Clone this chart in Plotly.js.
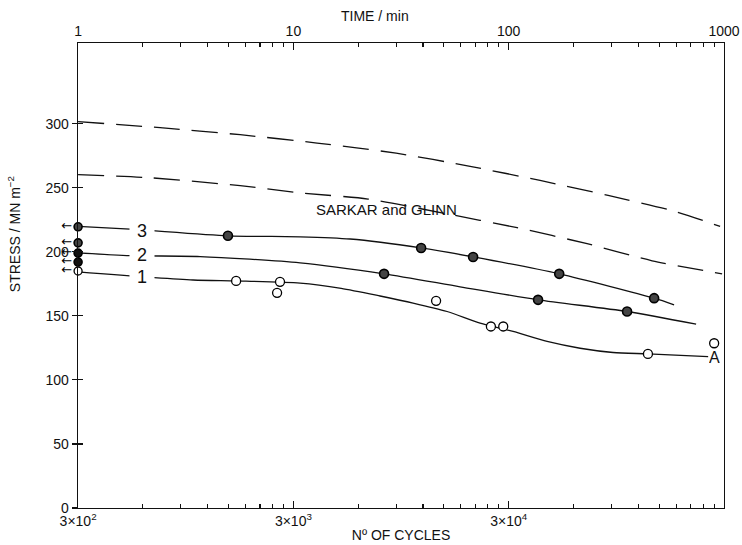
<!DOCTYPE html>
<html>
<head>
<meta charset="utf-8">
<script src="https://cdn.plot.ly/plotly-3.0.1.min.js"></script>
<style>html,body{margin:0;padding:0;background:#fff;}#chart{width:742px;height:545px;}</style>
</head>
<body>
<div id="chart"></div>
<script>
// ---- data (x in number of cycles, y in stress / MN m^-2) ----
const sarkarUpperX = [300, 721, 1697, 3865, 9000, 19860, 41960, 86860, 177800, 287800];
const sarkarUpperY = [301.6, 296.9, 291.4, 284.9, 277, 266.7, 255.7, 244, 231.5, 219.8];
const sarkarLowerX = [300, 648, 1697, 3222, 6670, 14870, 32820, 69400, 139100, 294000];
const sarkarLowerY = [260.2, 257.8, 251.6, 246, 241.2, 230.2, 218.8, 206.3, 193, 182.8];

const curve3X = [300, 523, 1490, 3222, 5502, 11760, 20500, 51500, 142100, 175900];
const curve3Y = [219.8, 217.7, 212.5, 211.7, 210, 203, 196, 182.8, 163.8, 158.6];
const curve2X = [300, 523, 1106, 3222, 7910, 17830, 41070, 106400, 222600];
const curve2Y = [199.2, 197, 196.3, 191.4, 182.8, 172.7, 162.5, 153.4, 143.5];
const curve1X = [300, 1026, 1626, 3222, 5000, 7582, 10790, 15520, 22100, 31440, 45240, 64380, 91620, 133000, 253200];
const curve1Y = [184.4, 178, 177.3, 175.6, 171.5, 165.5, 160, 153.4, 144.3, 137.8, 130, 124.7, 121.4, 120.3, 118.2];

const pts3X = [1490, 11760, 20500, 51500, 142100];
const pts3Y = [212.5, 203, 196, 182.8, 163.8];
const pts2X = [7910, 41070, 106400];
const pts2Y = [182.8, 162.5, 153.4];
const pts1X = [1626, 2600, 2520, 13800, 24800, 28300, 133000, 270000];
const pts1Y = [177.3, 176.6, 168, 161.7, 141.7, 141.7, 120.3, 128.6];

// run-out points on the 3x10^2 axis (arrows pointing left)
const axisShadedY = [219.5, 207];
const axisDarkY = [199, 192];
const axisOpenY = [185];
const axisX = 300;

const curveLabels = ['1', '2', '3', 'A'];
const curveLabelX = [595, 595, 595, 272000];
const curveLabelY = [180.5, 197.7, 216.4, 117.5];

const bottomTickVals = [300, 3000, 30000, 300000];
const bottomTickText = ['3×10<sup>2</sup>', '3×10<sup>3</sup>', '3×10<sup>4</sup>', '3×10<sup>5</sup>'];
const topTickVals = [1, 10, 100, 1000];
const topTickText = ['1', '10', '100', '1000'];
const yTickVals = [0, 50, 100, 150, 200, 250, 300];

// ---- minor tick positions ----
const bottomMinor = [];
const topMinor = [];
for (let d = 0; d < 3; d++) {
  for (let k = 2; k <= 9; k++) {
    bottomMinor.push(300 * k * Math.pow(10, d));
    topMinor.push(k * Math.pow(10, d));
  }
}

const FONT = 'Liberation Sans, Arial, sans-serif';
const lineStyle = {color: '#111', width: 1.3, shape: 'spline', smoothing: 0.7};
const dashStyle = {color: '#111', width: 1.3, shape: 'spline', smoothing: 0.7, dash: '26px,12px'};
const EPS = 0.0004; // tiny range padding so edge points are not hidden

function atAxis(arr) { return arr.map(() => axisX); }
const arrowFont = {size: 13, color: '#000', family: 'DejaVu Sans'};

const traces = [
  {x: sarkarUpperX, y: sarkarUpperY, mode: 'lines', line: dashStyle, name: 'Sarkar and Glinn (upper)'},
  {x: sarkarLowerX, y: sarkarLowerY, mode: 'lines', line: dashStyle, name: 'Sarkar and Glinn (lower)'},
  {x: curve3X, y: curve3Y, mode: 'lines', line: lineStyle, name: 'curve 3'},
  {x: curve2X, y: curve2Y, mode: 'lines', line: lineStyle, name: 'curve 2'},
  {x: curve1X, y: curve1Y, mode: 'lines', line: lineStyle, name: 'curve 1'},
  {x: pts3X, y: pts3Y, mode: 'markers', name: 'data 3',
   marker: {symbol: 'circle', size: 9, color: '#444', line: {color: '#000', width: 1.6}}},
  {x: pts2X, y: pts2Y, mode: 'markers', name: 'data 2',
   marker: {symbol: 'circle', size: 9, color: '#444', line: {color: '#000', width: 1.6}}},
  {x: pts1X, y: pts1Y, mode: 'markers', name: 'data 1',
   marker: {symbol: 'circle', size: 9, color: '#fff', line: {color: '#000', width: 1.3}}},
  {x: atAxis(axisShadedY), y: axisShadedY, mode: 'markers+text', text: axisShadedY.map(() => '←'),
   textposition: 'middle left', textfont: arrowFont, cliponaxis: false, name: 'run-out shaded',
   marker: {symbol: 'circle', size: 8, color: '#444', line: {color: '#000', width: 1.6}}},
  {x: atAxis(axisDarkY), y: axisDarkY, mode: 'markers+text', text: axisDarkY.map(() => '←'),
   textposition: 'middle left', textfont: arrowFont, cliponaxis: false, name: 'run-out dark',
   marker: {symbol: 'circle', size: 8, color: '#111', line: {color: '#000', width: 1.6}}},
  {x: atAxis(axisOpenY), y: axisOpenY, mode: 'markers+text', text: axisOpenY.map(() => '←'),
   textposition: 'middle left', textfont: arrowFont, cliponaxis: false, name: 'run-out open',
   marker: {symbol: 'circle', size: 8, color: '#fff', line: {color: '#000', width: 1.3}}},
  {x: [1], y: [0], xaxis: 'x2', mode: 'markers', marker: {size: 1, opacity: 0}, hoverinfo: 'skip', name: 'time axis'},
  {x: [300], y: [0], yaxis: 'y2', mode: 'markers', marker: {size: 1, opacity: 0}, hoverinfo: 'skip', name: 'tick helper'}
];

const annotations = curveLabels.map((t, i) => ({
  x: Math.log10(curveLabelX[i]), y: curveLabelY[i], xref: 'x', yref: 'y',
  text: t, showarrow: false, bgcolor: t === 'A' ? 'rgba(0,0,0,0)' : '#fff',
  width: t === 'A' ? undefined : 24, height: 15, borderpad: 0,
  font: {family: FONT, size: t === 'A' ? 16 : 18, color: '#111'}
}));
annotations.push({
  x: Math.log10(8085), y: 233, xref: 'x', yref: 'y', text: 'SARKAR and GLINN',
  showarrow: false, font: {family: FONT, size: 15, color: '#111'}
});
annotations.push({
  x: 0.46, y: 1.057, xref: 'paper', yref: 'paper', xanchor: 'center', yanchor: 'middle',
  text: 'TIME / min', showarrow: false, font: {family: FONT, size: 14, color: '#111'}
});
annotations.push({
  x: -0.099, y: 0.589, xref: 'paper', yref: 'paper', xanchor: 'center', yanchor: 'middle',
  text: 'STRESS / MN m<sup>−2</sup>', textangle: -90, showarrow: false,
  font: {family: FONT, size: 14, color: '#111'}
});

const layout = {
  width: 742, height: 545,
  margin: {l: 78, r: 18, t: 43, b: 37},
  paper_bgcolor: '#fff', plot_bgcolor: '#fff',
  showlegend: false,
  font: {family: FONT, size: 14, color: '#111'},
  xaxis: {
    type: 'log', range: [Math.log10(300) - EPS, Math.log10(300000)],
    tickmode: 'array', tickvals: bottomTickVals, ticktext: bottomTickText,
    ticks: 'inside', ticklen: 7, tickwidth: 1.2, tickcolor: '#111',
    minor: {tickmode: 'array', tickvals: bottomMinor, ticks: 'inside', ticklen: 4, tickwidth: 1.1, tickcolor: '#111', showgrid: false},
    showline: true, linecolor: '#111', linewidth: 1.3,
    showgrid: false, zeroline: false,
    tickfont: {family: FONT, size: 14, color: '#111'},
    title: {text: 'Nº OF CYCLES', standoff: 2, font: {family: FONT, size: 14, color: '#111'}}
  },
  xaxis2: {
    type: 'log', range: [0 - EPS, 3], overlaying: 'x', side: 'top', anchor: 'y',
    tickmode: 'array', tickvals: topTickVals, ticktext: topTickText,
    ticks: 'inside', ticklen: 7, tickwidth: 1.2, tickcolor: '#111',
    minor: {tickmode: 'array', tickvals: topMinor, ticks: 'inside', ticklen: 4, tickwidth: 1.1, tickcolor: '#111', showgrid: false},
    showline: true, linecolor: '#111', linewidth: 1.3,
    showgrid: false, zeroline: false,
    tickfont: {family: FONT, size: 14, color: '#111'}
  },
  yaxis: {
    range: [0, 363], tickmode: 'array', tickvals: yTickVals,
    ticks: 'outside', ticklen: 5, tickwidth: 1.2, tickcolor: '#111',
    showline: true, linecolor: '#111', linewidth: 1.3, mirror: true,
    showgrid: false, zeroline: false,
    tickfont: {family: FONT, size: 14, color: '#111'}
  },
  yaxis2: {
    range: [0, 363], tickmode: 'array', tickvals: yTickVals, overlaying: 'y', side: 'left', anchor: 'x',
    ticks: 'inside', ticklen: 5, tickwidth: 1.2, tickcolor: '#111',
    showticklabels: false, showline: false, showgrid: false, zeroline: false
  },
  annotations: annotations
};

Plotly.newPlot('chart', traces, layout, {displayModeBar: false, staticPlot: true});
</script>
</body>
</html>
